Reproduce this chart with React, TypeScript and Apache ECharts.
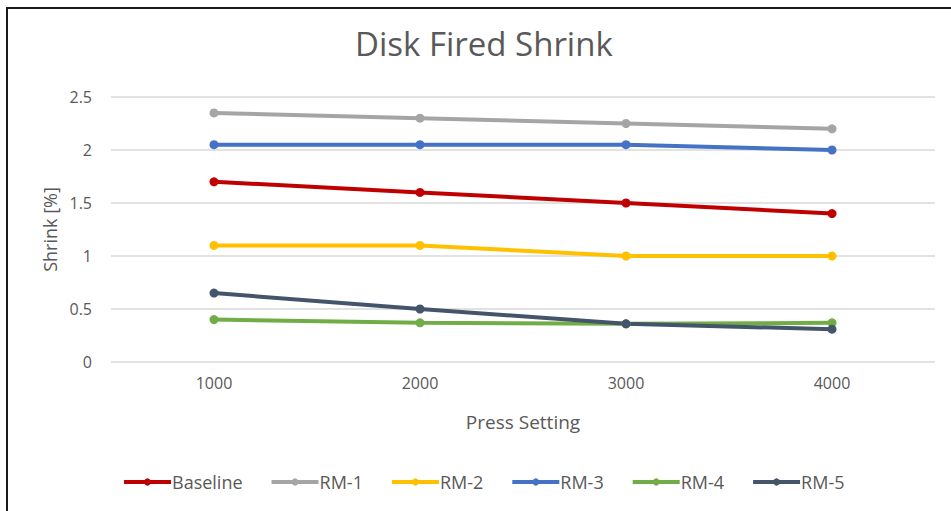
import React, { useEffect, useRef } from "react";
import * as echarts from "echarts";

const categories = ["1000", "2000", "3000", "4000"];
const seriesNames = ["Baseline", "RM-1", "RM-2", "RM-3", "RM-4", "RM-5"];
const baseline = [1.7, 1.6, 1.5, 1.4];
const rm1 = [2.35, 2.3, 2.25, 2.2];
const rm2 = [1.1, 1.1, 1.0, 1.0];
const rm3 = [2.05, 2.05, 2.05, 2.0];
const rm4 = [0.4, 0.37, 0.36, 0.37];
const rm5 = [0.65, 0.5, 0.36, 0.31];
const seriesValues = [baseline, rm1, rm2, rm3, rm4, rm5];
const colors = ["#C00000", "#A5A5A5", "#FFC000", "#4472C4", "#70AD47", "#44546A"];

const FONT = "'Open Sans', sans-serif";
const TEXT = "#595959";

export default function App() {
  const ref = useRef<HTMLDivElement>(null);
  useEffect(() => {
    const chart = echarts.init(ref.current!, null, { renderer: "svg" });
    chart.setOption({
      animation: false,
      backgroundColor: "#ffffff",
      title: {
        text: "Disk Fired Shrink",
        left: 350,
        top: 22,
        textStyle: { fontFamily: FONT, fontSize: 33, fontWeight: "normal", color: TEXT },
      },
      graphic: [
        {
          type: "polyline",
          shape: { points: [[7, 520], [7, 8], [960, 8]] },
          style: { stroke: "#1a1a1a", lineWidth: 2, fill: "none" },
        },
      ],
      legend: {
        bottom: 20,
        left: 122,
        padding: 0,
        itemWidth: 47,
        itemHeight: 9,
        itemGap: 27,
        data: seriesNames,
        lineStyle: { width: 4 },
        textStyle: { fontFamily: FONT, fontSize: 18, color: TEXT, padding: [0, 0, 0, -4] },
      },
      grid: { left: 111, right: 16, top: 97, bottom: 149 },
      xAxis: {
        type: "category",
        data: categories,
        boundaryGap: true,
        axisLine: { show: false },
        axisTick: { show: false },
        axisLabel: { fontFamily: FONT, fontSize: 16, color: TEXT, margin: 13 },
        name: "Press Setting",
        nameLocation: "middle",
        nameGap: 50,
        nameTextStyle: { fontFamily: FONT, fontSize: 19, color: TEXT },
      },
      yAxis: {
        type: "value",
        min: 0,
        max: 2.5,
        interval: 0.5,
        axisLine: { show: false },
        axisTick: { show: false },
        splitLine: { lineStyle: { color: "#D9D9D9", width: 1.5 } },
        axisLabel: { fontFamily: FONT, fontSize: 16, color: TEXT, margin: 19 },
        name: "Shrink [%]",
        nameLocation: "middle",
        nameGap: 52,
        nameTextStyle: { fontFamily: FONT, fontSize: 18, color: TEXT },
      },
      series: seriesNames.map((name, i) => ({
        name,
        type: "line",
        data: seriesValues[i],
        symbol: "circle",
        symbolSize: 9,
        color: colors[i],
        lineStyle: { width: 4, color: colors[i] },
        itemStyle: { color: colors[i] },
      })),
    });
    return () => chart.dispose();
  }, []);
  return <div ref={ref} style={{ position: "fixed", left: 0, top: 0, width: 951, height: 511 }} />;
}
